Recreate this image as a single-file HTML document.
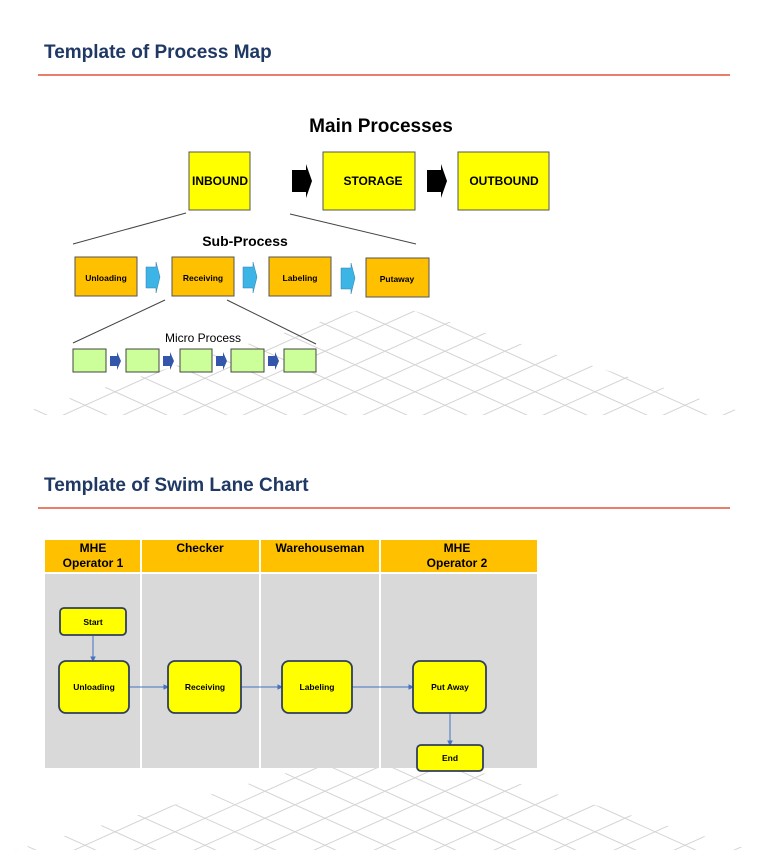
<!DOCTYPE html>
<html><head><style>
html,body{margin:0;padding:0;background:#fff;width:768px;height:866px;overflow:hidden;}
svg{display:block;}
svg text{font-family:"Liberation Sans",sans-serif;}
</style></head><body>
<svg width="768" height="866" viewBox="0 0 768 866" xmlns="http://www.w3.org/2000/svg">
<defs>
<clipPath id="t1"><polygon points="385,302 752,415 15,415"/></clipPath>
<clipPath id="t2"><polygon points="385,745 752,850 15,850"/></clipPath>
<g id="grid" stroke="#d4d4d4" stroke-width="1" fill="none">
<path d="M-400,0 l1200,540 M-340,0 l1200,540 M-280,0 l1200,540 M-220,0 l1200,540 M-160,0 l1200,540 M-100,0 l1200,540 M-40,0 l1200,540 M20,0 l1200,540 M80,0 l1200,540 M140,0 l1200,540 M200,0 l1200,540 M260,0 l1200,540 M320,0 l1200,540 M380,0 l1200,540 M440,0 l1200,540 M-460,0 l1200,540 M-520,0 l1200,540 M-580,0 l1200,540 M-640,0 l1200,540 M-700,0 l1200,540"/>
<path d="M1170,0 l-1200,540 M1110,0 l-1200,540 M1050,0 l-1200,540 M990,0 l-1200,540 M930,0 l-1200,540 M870,0 l-1200,540 M810,0 l-1200,540 M750,0 l-1200,540 M690,0 l-1200,540 M630,0 l-1200,540 M570,0 l-1200,540 M510,0 l-1200,540 M450,0 l-1200,540 M390,0 l-1200,540 M330,0 l-1200,540 M1230,0 l-1200,540 M1290,0 l-1200,540 M1350,0 l-1200,540 M1410,0 l-1200,540 M1470,0 l-1200,540"/>
</g>
</defs>
<g clip-path="url(#t1)"><use href="#grid" transform="translate(0,160)"/></g>
<g clip-path="url(#t2)"><use href="#grid" transform="translate(0,600)"/></g>

<text x="44" y="58" font-size="19" font-weight="bold" fill="#1f3864">Template of Process Map</text>
<line x1="38" y1="75" x2="730" y2="75" stroke="#e0533a" stroke-width="1.5"/>

<text x="381" y="132" font-size="19" font-weight="bold" text-anchor="middle">Main Processes</text>
<g stroke="#555" stroke-width="1" fill="#ffff00">
<rect x="189" y="152" width="61" height="58"/><rect x="323" y="152" width="92" height="58"/><rect x="458" y="152" width="91" height="58"/>
</g>
<g font-size="12" font-weight="bold" text-anchor="middle">
<text x="220" y="185">INBOUND</text><text x="373" y="185">STORAGE</text><text x="504" y="185">OUTBOUND</text>
</g>
<polygon points="292,170 306,170 306,164 312,181 306,198 306,192 292,192" fill="#000"/>
<polygon points="427,170 441,170 441,164 447,181 441,198 441,192 427,192" fill="#000"/>
<line x1="186" y1="213" x2="73" y2="244" stroke="#444"/><line x1="290" y1="214" x2="416" y2="244" stroke="#444"/>
<text x="245" y="246" font-size="14" font-weight="bold" text-anchor="middle">Sub-Process</text>
<g stroke="#555" fill="#ffc000">
<rect x="75" y="257" width="62" height="39"/><rect x="172" y="257" width="62" height="39"/><rect x="269" y="257" width="62" height="39"/><rect x="366" y="258" width="63" height="39"/>
</g>
<g font-size="8.5" font-weight="bold" text-anchor="middle">
<text x="106" y="281">Unloading</text><text x="203" y="281">Receiving</text><text x="300" y="281">Labeling</text><text x="397" y="282">Putaway</text>
</g>
<g fill="#3cb4e6" stroke="#2a7fb0" stroke-width="0.5">
<polygon points="146,267 156,267 156,262 160,277 156,293 156,288 146,288"/>
<polygon points="243,267 253,267 253,262 257,277 253,293 253,288 243,288"/>
<polygon points="341,268 351,268 351,263 355,278 351,294 351,289 341,289"/>
</g>
<line x1="165" y1="300" x2="73" y2="343" stroke="#444"/><line x1="227" y1="300" x2="316" y2="344" stroke="#444"/>
<text x="203" y="342" font-size="12" text-anchor="middle">Micro Process</text>
<g stroke="#444" fill="#ccff99">
<rect x="73" y="349" width="33" height="23"/><rect x="126" y="349" width="33" height="23"/><rect x="180" y="349" width="32" height="23"/><rect x="231" y="349" width="33" height="23"/><rect x="284" y="349" width="32" height="23"/>
</g>
<g fill="#3355aa">
<polygon points="110,356 117,356 117,352 121,361 117,370 117,366 110,366"/><polygon points="163,356 170,356 170,352 174,361 170,370 170,366 163,366"/><polygon points="216,356 223,356 223,352 227,361 223,370 223,366 216,366"/><polygon points="268,356 275,356 275,352 279,361 275,370 275,366 268,366"/>
</g>

<text x="44" y="491" font-size="19" font-weight="bold" fill="#1f3864">Template of  Swim Lane Chart</text>
<line x1="38" y1="508" x2="730" y2="508" stroke="#e0533a" stroke-width="1.5"/>

<rect x="45" y="540" width="492" height="32" fill="#ffc000"/>
<rect x="45" y="574" width="492" height="194" fill="#d9d9d9"/>
<g stroke="#fff" stroke-width="2"><line x1="141" y1="540" x2="141" y2="768"/><line x1="260" y1="540" x2="260" y2="768"/><line x1="380" y1="540" x2="380" y2="768"/><line x1="45" y1="573" x2="537" y2="573"/></g>
<g font-size="12" font-weight="bold" text-anchor="middle">
<text x="93" y="552">MHE</text><text x="93" y="567">Operator 1</text>
<text x="200" y="552">Checker</text><text x="320" y="552">Warehouseman</text>
<text x="457" y="552">MHE</text><text x="457" y="567">Operator 2</text>
</g>
<g stroke="#4472c4" stroke-width="1" fill="#4472c4">
<line x1="93" y1="636" x2="93" y2="660"/><polygon points="91,657 95,657 93,661"/>
<line x1="129" y1="687" x2="167" y2="687"/><polygon points="164,685 164,689 168,687"/>
<line x1="241" y1="687" x2="281" y2="687"/><polygon points="278,685 278,689 282,687"/>
<line x1="352" y1="687" x2="412" y2="687"/><polygon points="409,685 409,689 413,687"/>
<line x1="450" y1="713" x2="450" y2="744"/><polygon points="448,741 452,741 450,745"/>
</g>
<g fill="#ffff00" stroke="#2f3f5a" stroke-width="1.8">
<rect x="60" y="608" width="66" height="27" rx="4"/>
<rect x="59" y="661" width="70" height="52" rx="7"/>
<rect x="168" y="661" width="73" height="52" rx="7"/>
<rect x="282" y="661" width="70" height="52" rx="7"/>
<rect x="413" y="661" width="73" height="52" rx="7"/>
<rect x="417" y="745" width="66" height="26" rx="4"/>
</g>
<g font-size="8.5" font-weight="bold" text-anchor="middle">
<text x="93" y="625">Start</text><text x="94" y="690">Unloading</text><text x="205" y="690">Receiving</text><text x="317" y="690">Labeling</text><text x="450" y="690">Put Away</text><text x="450" y="761">End</text>
</g>
</svg>
</body></html>
